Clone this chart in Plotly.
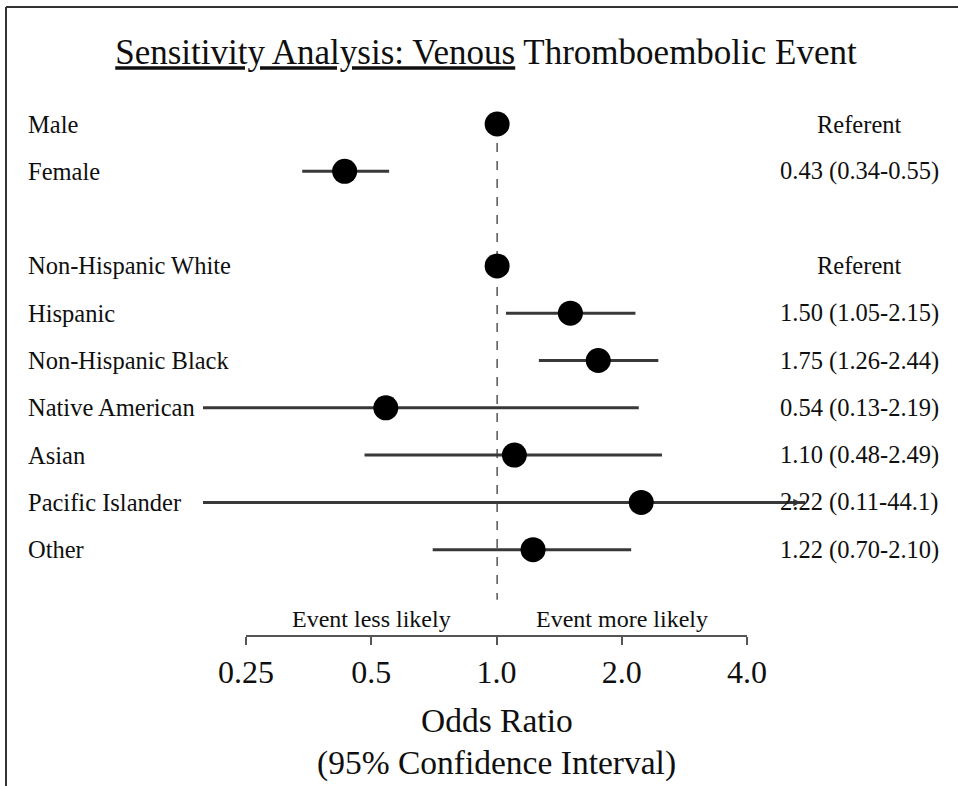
import math
import plotly.graph_objects as go

# ---------------- data ----------------
labels = ["Male", "Female",
          "Non-Hispanic White", "Hispanic", "Non-Hispanic Black",
          "Native American", "Asian", "Pacific Islander", "Other"]
group_sizes = [2, 7]
odds_ratio = [1.00, 0.43, 1.00, 1.50, 1.75, 0.54, 1.10, 2.22, 1.22]
ci_low = [None, 0.34, None, 1.05, 1.26, 0.13, 0.48, 0.11, 0.70]
ci_high = [None, 0.55, None, 2.15, 2.44, 2.19, 2.49, 44.1, 2.10]
ci_text = ["Referent", "0.43 (0.34-0.55)",
           "Referent", "1.50 (1.05-2.15)", "1.75 (1.26-2.44)",
           "0.54 (0.13-2.19)", "1.10 (0.48-2.49)", "2.22 (0.11-44.1)",
           "1.22 (0.70-2.10)"]
tick_vals = [0.25, 0.5, 1.0, 2.0, 4.0]
tick_text = ["0.25", "0.5", "1.0", "2.0", "4.0"]
direction_labels = ["Event less likely", "Event more likely"]
direction_pos = [0.5, 2.0]

# row positions (one blank row between groups)
rows = []
r = 0
for g in group_sizes:
    for _ in range(g):
        rows.append(r)
        r += 1
    r += 1

W, H = 958, 786
FONT = "Liberation Serif"
TXT = "#0f0f0f"
def px(x):
    return x / W
def py(y):
    return 1 - y / H

fig = go.Figure()

# CI lines
lx, ly = [], []
for lo, hi, y in zip(ci_low, ci_high, rows):
    if lo is None:
        continue
    lx += [lo, hi, None]
    ly += [y, y, None]
fig.add_trace(go.Scatter(x=lx, y=ly, mode="lines",
                         line=dict(color="#383838", width=3),
                         hoverinfo="skip", showlegend=False))

# point estimates
fig.add_trace(go.Scatter(x=odds_ratio, y=rows, mode="markers",
                         marker=dict(color="black", size=25, symbol="circle"),
                         showlegend=False))

# invisible trace for the visible odds-ratio axis
fig.add_trace(go.Scatter(x=tick_vals, y=[-100] * len(tick_vals), mode="markers",
                         marker=dict(opacity=0), xaxis="x2", yaxis="y",
                         hoverinfo="skip", showlegend=False))

annotations = []
for lab, y in zip(labels, rows):
    annotations.append(dict(x=px(26), xref="paper", y=y, yref="y", text=lab,
                            showarrow=False, xanchor="left", yanchor="middle",
                            font=dict(family=FONT, size=24.5, color=TXT)))
for t, y in zip(ci_text, rows):
    annotations.append(dict(x=px(859), xref="paper", y=y, yref="y", text=t,
                            showarrow=False, xanchor="center", yanchor="middle",
                            font=dict(family=FONT, size=24.5, color=TXT)))

for t, v in zip(direction_labels, direction_pos):
    annotations.append(dict(x=math.log10(v), xref="x2", y=py(619), yref="paper",
                            text=t, showarrow=False, xanchor="center",
                            yanchor="middle",
                            font=dict(family=FONT, size=24, color=TXT)))

annotations += [
    dict(x=px(497), xref="paper", y=py(720), yref="paper", text="Odds Ratio",
         showarrow=False, xanchor="center", yanchor="middle",
         font=dict(family=FONT, size=33.5, color=TXT)),
    dict(x=px(497), xref="paper", y=py(763), yref="paper",
         text="(95% Confidence Interval)",
         showarrow=False, xanchor="center", yanchor="middle",
         font=dict(family=FONT, size=33.5, color=TXT)),
]

xr = [-0.707, 0.740]
# arrow for clipped upper CI
annotations.append(dict(x=xr[1] - 0.01, xref="x", y=rows[7], yref="y",
                        ax=-14, ay=0, showarrow=True, arrowhead=2,
                        arrowsize=1, arrowwidth=1.5, arrowcolor="#333", text=""))

shapes = [
    dict(type="line", xref="x", yref="y", x0=1, x1=1, y0=0.4, y1=10.06,
         line=dict(color="#555", width=1.5, dash="dash"), layer="below"),
    dict(type="line", xref="paper", yref="paper", x0=px(6), x1=1, y0=py(7), y1=py(7),
         line=dict(color="#333", width=2)),
    dict(type="line", xref="paper", yref="paper", x0=px(6), x1=px(6), y0=0, y1=py(7),
         line=dict(color="#333", width=2)),
]

fig.update_layout(
    template="none",
    width=W, height=H, autosize=False,
    margin=dict(l=0, r=0, t=0, b=0, pad=0, autoexpand=False),
    paper_bgcolor="white", plot_bgcolor="rgba(0,0,0,0)",
    title=dict(text="<u>Sensitivity Analysis: Venous</u> Thromboembolic Event",
               x=px(486), y=py(52), xanchor="center", yanchor="middle",
               font=dict(family=FONT, size=35, color=TXT)),
    xaxis=dict(type="log", range=xr, domain=[px(203), px(805)],
               visible=False, showgrid=False, zeroline=False, automargin=False),
    yaxis=dict(range=[(610 - 124) / 47.3, (100 - 124) / 47.3],
               domain=[py(610), py(100)], visible=False,
               showgrid=False, zeroline=False, automargin=False),
    xaxis2=dict(type="log", range=[math.log10(0.25), math.log10(4.0)],
                domain=[px(246), px(747)], anchor="free", position=py(636),
                showline=True, linecolor="#555", linewidth=2,
                ticks="outside", ticklen=8, tickwidth=2, tickcolor="#555",
                tickvals=tick_vals, ticktext=tick_text,
                tickfont=dict(family=FONT, size=32, color=TXT),
                showgrid=False, zeroline=False, automargin=False),
    annotations=annotations,
    shapes=shapes,
    showlegend=False,
)

fig.write_html("out.html",
               config={"displayModeBar": False},
               post_script="document.body.style.margin='0';document.body.style.overflow='hidden';")
